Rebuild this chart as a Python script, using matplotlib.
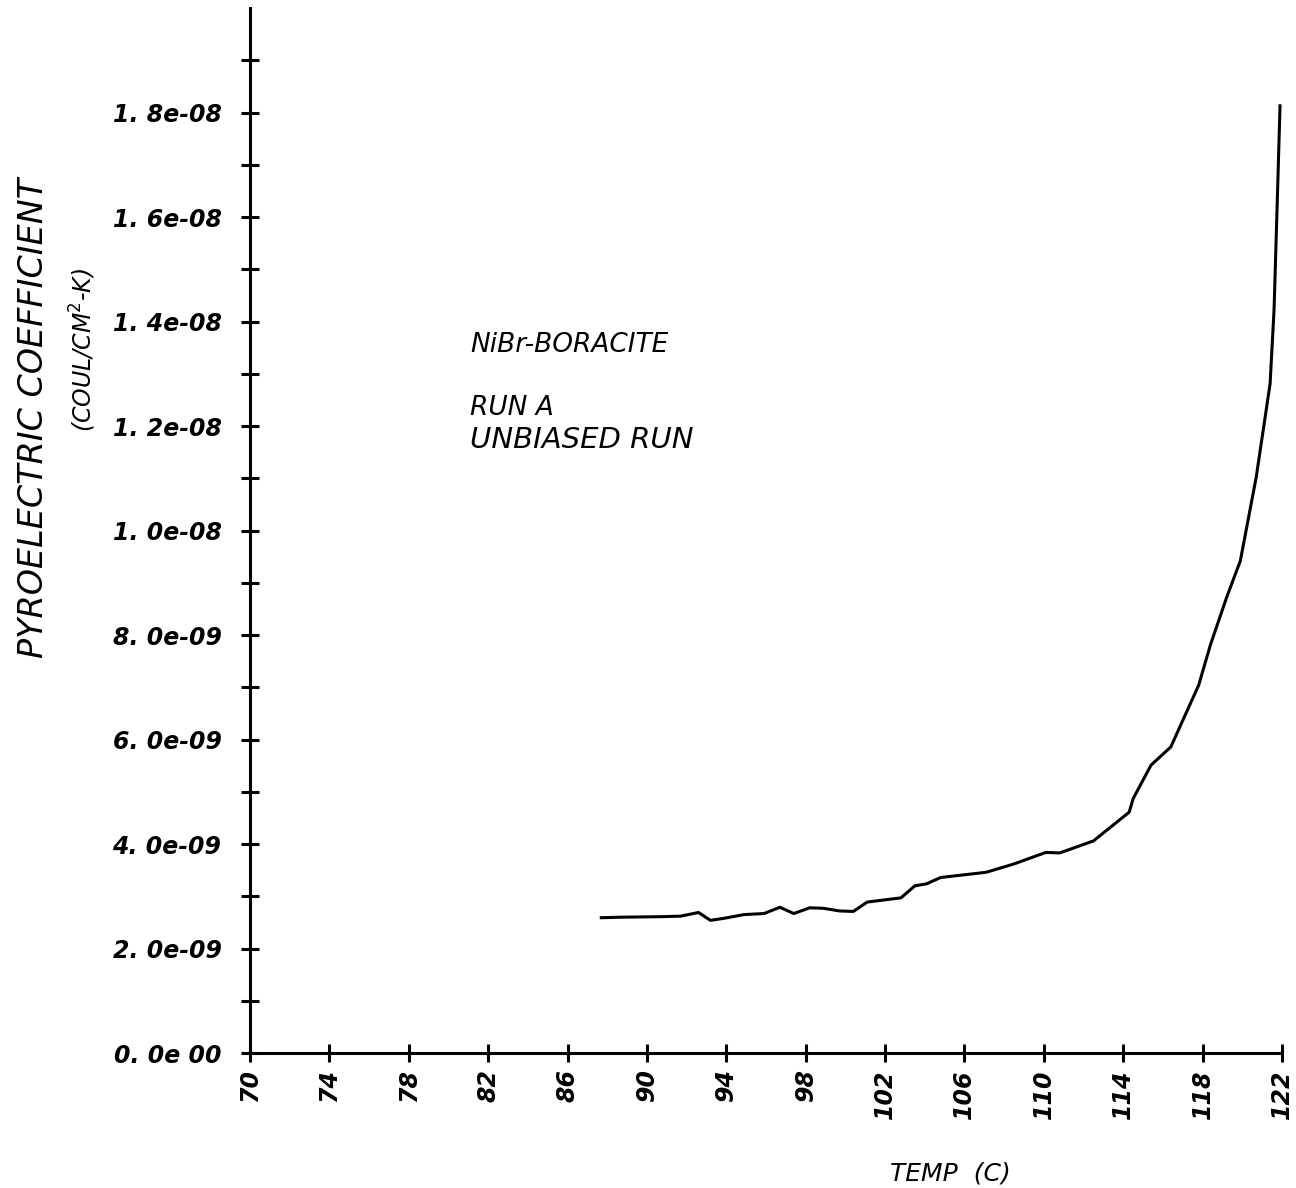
import numpy as np
import matplotlib.pyplot as plt
from matplotlib.ticker import FixedLocator

temp = [87.7, 88.7, 90.7, 91.7, 92.6, 93.2, 93.9, 94.9, 95.9, 96.7, 97.4, 98.2,
        98.9, 99.7, 100.4, 101.1, 102.8, 103.5, 104.1, 104.8, 107.1, 108.5,
        110.1, 110.8, 112.5, 114.3, 114.5, 115.4, 116.4, 117.8, 118.4, 119.2,
        119.9, 120.7, 121.4, 121.6, 121.75, 121.9]
coef_e9 = [2.59, 2.60, 2.61, 2.62, 2.69, 2.54, 2.58, 2.65, 2.67, 2.79, 2.67, 2.78,
           2.77, 2.72, 2.71, 2.89, 2.97, 3.20, 3.24, 3.36, 3.46, 3.62,
           3.84, 3.83, 4.06, 4.61, 4.87, 5.51, 5.86, 7.04, 7.82, 8.71,
           9.42, 11.02, 12.81, 14.23, 16.15, 18.13]
coef = np.array(coef_e9) * 1e-9

xticks = list(range(70, 123, 4))
yticks = [i * 2e-9 for i in range(10)]
ytick_labels = ['0. 0e 00', '2. 0e-09', '4. 0e-09', '6. 0e-09', '8. 0e-09',
                '1. 0e-08', '1. 2e-08', '1. 4e-08', '1. 6e-08', '1. 8e-08']

fig = plt.figure(figsize=(12.96, 11.88), dpi=100)
ax = fig.add_axes([0.1929, 0.1136, 0.7963, 0.8796])

ax.plot(temp, coef, color='black', lw=2.2)

ax.set_xlim(70, 122)
ax.set_ylim(0, 2.0e-8)
for s in ['top', 'right']:
    ax.spines[s].set_visible(False)
for s in ['left', 'bottom']:
    ax.spines[s].set_linewidth(2.2)

ax.set_xticks(xticks)
ax.set_xticklabels([str(t) for t in xticks], rotation=90, fontsize=17,
                   fontweight='bold', fontstyle='italic')
ax.set_yticks(yticks)
ax.set_yticklabels(ytick_labels, fontsize=17, fontweight='bold', fontstyle='italic')
ax.yaxis.set_minor_locator(FixedLocator([(2 * i + 1) * 1e-9 for i in range(10)]))
ax.tick_params(axis='both', which='both', direction='inout', length=13, width=2.2,
               color='black')
ax.tick_params(axis='x', pad=5)
ax.tick_params(axis='y', pad=14)

fig.text(0.026, 0.648, 'PYROELECTRIC COEFFICIENT', rotation=90, fontsize=24,
         fontstyle='italic', ha='center', va='center')
fig.text(0.064, 0.705, '(COUL/CM$^2$-K)', rotation=90, fontsize=17,
         fontstyle='italic', ha='center', va='center')
fig.text(0.733, 0.0126, 'TEMP  (C)', fontsize=18, fontstyle='italic',
         ha='center', va='center')

fig.text(0.3627, 0.7096, 'NiBr-BORACITE', fontsize=19,
         fontstyle='italic', va='center')
fig.text(0.3627, 0.6566, 'RUN A', fontsize=19,
         fontstyle='italic', va='center')
fig.text(0.3627, 0.6296, 'UNBIASED RUN', fontsize=21,
         fontstyle='italic', va='center')

fig.savefig('out.png', dpi=100, facecolor='white')
